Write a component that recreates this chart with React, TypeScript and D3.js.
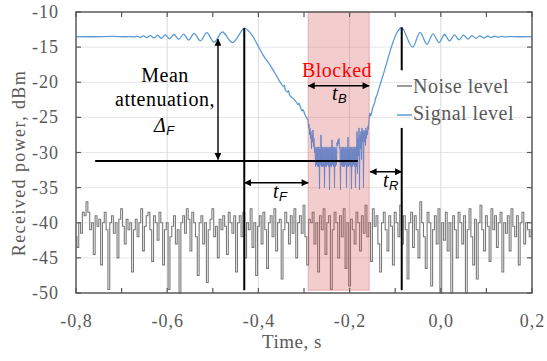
import React from "react";
import * as d3 from "d3";

const W = 547;
const H = 361;

// axes
const xDomain = [-0.8, 0.2];
const yDomain = [-50, -10];
const xTicks = [-0.8, -0.6, -0.4, -0.2, 0.0, 0.2];
const xTickLabels = ["-0,8", "-0,6", "-0,4", "-0,2", "0,0", "0,2"];
const xMinorTicks = [-0.7, -0.5, -0.3, -0.1, 0.1];
const yTicks = [-10, -15, -20, -25, -30, -35, -40, -45, -50];
const xGrid = [-0.6, -0.4, -0.2, 0.0];
const yGrid = [-15, -20, -25, -30, -35, -40, -45];

// noise level (sampled every 4 ms from -0.8 s)
const noiseStart = -0.8;
const noiseStep = 0.004;
const noiseValues = [
  -42, -43.5, -40, -41.5, -38.5, -39, -37, -38.5, -41, -40,
  -44.5, -39, -40.5, -39.5, -46, -40, -38.5, -41, -49.5, -40,
  -39, -41.5, -40, -45, -39.5, -38, -40.5, -43, -39.5, -41,
  -40, -47, -41, -39.5, -42, -40, -38, -44, -40.5, -39,
  -38.5, -41, -45.5, -39, -40, -42.5, -38.5, -40, -46, -41,
  -40, -49.5, -42, -40.5, -39, -43, -41, -50, -40, -39,
  -41.5, -38, -39.5, -44, -38.5, -40, -42, -47.5, -40, -39,
  -43, -40, -48.5, -41, -39.5, -38, -42, -40.5, -45, -39.5,
  -41, -39, -40.5, -44.5, -38.5, -40, -41.5, -39, -47, -40,
  -39, -42, -38.5, -45, -40, -41, -38, -43.5, -40, -47.5,
  -40.5, -39, -43, -38.5, -41, -46.5, -40, -39, -42, -38,
  -44, -40, -39.5, -48, -41, -38.5, -40, -43, -39, -41.5,
  -38, -45, -40, -39, -41.5, -37.5, -42, -46, -39.5, -40,
  -38.5, -43, -40, -47, -39, -41, -38, -44.5, -40, -39,
  -49.5, -41, -38.5, -40, -45, -39, -42, -38, -46.5, -40,
  -49, -39.5, -41, -43, -38.5, -40, -44, -39, -41.5, -37.5,
  -42, -40, -45.5, -38, -40.5, -39, -43, -47, -40, -38.5,
  -41, -44, -39, -40.5, -46, -38.5, -40, -42, -37.5, -43,
  -39, -41, -48, -40, -38.5, -43.5, -39, -41, -45, -37,
  -40, -42, -46.5, -38.5, -40, -49, -41, -39, -43, -38,
  -50, -40, -42.5, -38.5, -44, -40, -50, -39, -41, -45,
  -38.5, -40, -43, -39, -50, -41, -38, -42, -46, -39.5,
  -48, -40, -37.5, -41, -44, -39, -40.5, -45.5, -38, -41,
  -39, -43.5, -40, -38.5, -47, -40, -41.5, -39, -44, -38,
  -40.5, -42, -39, -46, -40, -38.5, -43, -40, -41, -42,
  -41,
];

// signal level: approach and shadowing fall [time s, dBm]
const signalFall: [number, number][] = [
  [-0.8, -13.5], [-0.76, -13.52], [-0.72, -13.48], [-0.69, -13.52],
  [-0.68, -13.5], [-0.673, -13.55], [-0.666, -13.45], [-0.659, -13.6],
  [-0.652, -13.4], [-0.645, -13.65], [-0.637, -13.35], [-0.629, -13.7],
  [-0.621, -13.3], [-0.613, -13.75], [-0.604, -13.25], [-0.595, -13.8],
  [-0.585, -13.2], [-0.575, -13.9], [-0.564, -13.15], [-0.553, -14.0],
  [-0.541, -13.05], [-0.527, -14.1], [-0.513, -12.95], [-0.497, -14.3],
  [-0.479, -12.85], [-0.457, -14.35], [-0.431, -12.3],
  [-0.423, -12.6], [-0.414, -13.3], [-0.405, -14.3], [-0.39, -16.1],
  [-0.375, -17.5], [-0.361, -19.0], [-0.353, -19.9], [-0.345, -20.6],
  [-0.343, -20.4], [-0.341, -21.1], [-0.336, -21.4], [-0.334, -21.2],
  [-0.331, -21.9], [-0.322, -22.4], [-0.316, -22.9], [-0.313, -23.2],
  [-0.311, -23.0], [-0.307, -23.7], [-0.304, -24.1], [-0.302, -23.9],
  [-0.298, -24.6], [-0.2912, -25.4],
];

// signal level inside the blocked interval
const blockedStart = -0.2912;
const blockedEnd = -0.1575;
const blockedValues = [
  -25.4, -26.5, -26, -27.5, -26.5, -28, -27, -29.5, -27.5, -28.5, -26.8, -29.2, -28, -30,
  -29.2, -32, -29.5, -31.8, -29.2, -32, -29.3, -32,
  -29.2, -35.2, -29.5, -31.8, -27.5, -32, -29.3, -32,
  -29.2, -32, -29.5, -35, -29.2, -32, -29.3, -32,
  -29.2, -31.8, -29.5, -32, -29.2, -35.3, -29.3, -32,
  -29.2, -32, -28.2, -31.8, -29.2, -32, -29.3, -35,
  -29.2, -32, -29.5, -31.8,
  -28.6, -29, -28.2, -28.8, -28, -29.5,
  -29.2, -35.3, -29.5, -31.8, -29.2, -32, -29.3, -32,
  -29.2, -32, -29.5, -31.8, -29.2, -35, -29.3, -32,
  -27.8, -32, -29.5, -31.8, -29.2, -32, -29.3, -35.2,
  -29.2, -32, -29.5, -31.8, -29.2, -32, -29.3, -35,
  -29.2, -32,
  -27, -33, -28, -30.5, -26.5, -35.3, -27.5, -29.5, -27, -31, -26.5, -28.5, -27,
  -35, -26.8, -28.5, -27, -29, -26.5, -28, -26.8, -27.5, -26.2, -26.8, -25.3,
];

// signal level: recovery and ripple
const signalRise: [number, number][] = [
  [-0.1575, -25.3], [-0.1555, -24.4], [-0.1535, -24.8], [-0.1505, -23.9],
  [-0.1487, -23.5], [-0.145, -22.9], [-0.143, -22.3], [-0.141, -22.0],
  [-0.1333, -20.4], [-0.1257, -18.8], [-0.118, -17.1], [-0.1114, -15.6],
  [-0.1048, -14.3], [-0.0982, -13.2], [-0.0928, -12.6], [-0.0857, -12.2],
  [-0.062, -15.0], [-0.0456, -12.9], [-0.0303, -14.6], [-0.0171, -13.1],
  [-0.0039, -14.35], [0.0081, -13.2], [0.0191, -14.1], [0.03, -13.25],
  [0.0399, -13.95], [0.0498, -13.3], [0.0596, -13.85], [0.0684, -13.35],
  [0.0772, -13.75], [0.086, -13.4], [0.0947, -13.7], [0.1024, -13.42],
  [0.11, -13.62], [0.1178, -13.45], [0.1254, -13.58], [0.133, -13.47],
  [0.141, -13.55], [0.15, -13.5], [0.17, -13.52], [0.2, -13.5],
];

// annotation values (data units)
const blockedZone = [-0.291, -0.157];
const zoneBottom = -49.6;
const edgeFall = -0.431;
const edgeFallTop = -12.3;
const edgeRise = -0.0857;
const edgeRiseTop = -12.2;
const edgeRiseGap = [-18.3, -26.5];
const meanLevel = -31.2;
const meanLine = [-0.758, -0.182];
const attArrowT = -0.4886;
const attArrowRange = [-13.85, -31.0];
const tBLevel = -20.5;
const tFLevel = -34.3;
const tFEnd = -0.2906;
const tRLevel = -32.75;
const tRStart = -0.1553;

const SERIF = '"Liberation Serif", "Times New Roman", Times, serif';
const SANS = '"Liberation Sans", Arial, sans-serif';
const AXIS = "#595959";
const BLUE = "#5b9bd5";
const GREY = "#7a7a7a";

export default function App() {
  const x = d3.scaleLinear().domain(xDomain).range([76, 532]);
  const y = d3.scaleLinear().domain(yDomain).range([293, 12]);

  const noisePts: [number, number][] = noiseValues.map((v, i) => [noiseStart + i * noiseStep, v]);
  const bStep = (blockedEnd - blockedStart) / (blockedValues.length - 1);
  const blockedPts: [number, number][] = blockedValues.map((v, i) => [blockedStart + i * bStep, v]);

  const lin = d3.line<[number, number]>().x((d) => x(d[0])).y((d) => y(d[1]));
  const stepLine = d3
    .line<[number, number]>()
    .x((d) => x(d[0]))
    .y((d) => y(d[1]))
    .curve(d3.curveStep);
  const smooth = d3
    .line<[number, number]>()
    .x((d) => x(d[0]))
    .y((d) => y(d[1]))
    .curve(d3.curveCatmullRom.alpha(0.5));

  const [x0, x1] = x.range();
  const [yb, yt] = y.range();

  const arrowProps = {
    stroke: "#000",
    strokeWidth: 1.4,
    markerStart: "url(#ah)",
    markerEnd: "url(#ah)",
  };

  return (
    <svg
      width={W}
      height={H}
      viewBox={`0 0 ${W} ${H}`}
      style={{ position: "absolute", left: 0, top: 0, background: "#fff" }}
    >
      <defs>
        <marker
          id="ah"
          viewBox="0 0 10 10"
          refX="9.5"
          refY="5"
          markerWidth="10"
          markerHeight="7"
          markerUnits="userSpaceOnUse"
          orient="auto-start-reverse"
        >
          <path d="M0,0 L10,5 L0,10 z" fill="#000" />
        </marker>
      </defs>

      {/* gridlines */}
      {yGrid.map((v) => (
        <line key={"gy" + v} x1={x0} x2={x1} y1={y(v)} y2={y(v)} stroke="#e6e6e6" strokeWidth={1} />
      ))}
      {xGrid.map((v) => (
        <line key={"gx" + v} x1={x(v)} x2={x(v)} y1={yt} y2={yb} stroke="#d9d9d9" strokeWidth={1} />
      ))}

      {/* noise */}
      <path d={stepLine(noisePts) || ""} fill="none" stroke={GREY} strokeWidth={1.1} />

      {/* signal */}
      <path d={smooth(signalFall) || ""} fill="none" stroke={BLUE} strokeWidth={1.3} />
      <path d={smooth(signalRise) || ""} fill="none" stroke={BLUE} strokeWidth={1.3} />

      {/* blocked zone */}
      <rect
        x={x(blockedZone[0])}
        y={yt}
        width={x(blockedZone[1]) - x(blockedZone[0])}
        height={y(zoneBottom) - yt}
        fill="rgba(214,90,90,0.3)"
        stroke="rgba(214,110,110,0.45)"
        strokeWidth={1}
      />
      <path d={lin(blockedPts) || ""} fill="none" stroke="#6a84c4" strokeWidth={1} />

      {/* frame */}
      <rect x={x0} y={yt} width={x1 - x0} height={yb - yt} fill="none" stroke={AXIS} strokeWidth={1.5} />
      {yTicks.map((v) => (
        <g key={"ty" + v}>
          <line x1={x0} x2={x0 + 5} y1={y(v)} y2={y(v)} stroke={AXIS} strokeWidth={1.2} />
          <line x1={x1} x2={x1 - 5} y1={y(v)} y2={y(v)} stroke={AXIS} strokeWidth={1.2} />
          <text
            x={59}
            y={y(v) + 6}
            textAnchor="end"
            fontFamily={SERIF}
            fontSize={18}
            letterSpacing={1}
            fill={AXIS}
          >
            {String(v)}
          </text>
        </g>
      ))}
      {xTicks.concat(xMinorTicks).map((v) => (
        <g key={"tx" + v}>
          <line x1={x(v)} x2={x(v)} y1={yt} y2={yt + 5} stroke={AXIS} strokeWidth={1.2} />
          <line x1={x(v)} x2={x(v)} y1={yb} y2={yb - 5} stroke={AXIS} strokeWidth={1.2} />
        </g>
      ))}
      {xTicks.map((v, i) => (
        <text
          key={"lx" + v}
          x={x(v) + 0.5}
          y={327}
          textAnchor="middle"
          fontFamily={SERIF}
          fontSize={18}
          letterSpacing={1}
          fill={AXIS}
        >
          {xTickLabels[i]}
        </text>
      ))}
      <text x={292} y={348} textAnchor="middle" fontFamily={SERIF} fontSize={19} letterSpacing={0.5} fill={AXIS}>
        Time, s
      </text>
      <text
        transform="translate(25,163) rotate(-90)"
        textAnchor="middle"
        fontFamily={SERIF}
        fontSize={18}
        letterSpacing={1.4}
        fill={AXIS}
      >
        Received power, dBm
      </text>

      {/* edges */}
      <line x1={x(edgeFall)} x2={x(edgeFall)} y1={y(edgeFallTop)} y2={y(zoneBottom)} stroke="#000" strokeWidth={2} />
      <line x1={x(edgeRise)} x2={x(edgeRise)} y1={y(edgeRiseTop)} y2={y(edgeRiseGap[0])} stroke="#000" strokeWidth={2} />
      <line x1={x(edgeRise)} x2={x(edgeRise)} y1={y(edgeRiseGap[1])} y2={y(zoneBottom)} stroke="#000" strokeWidth={2} />
      <line x1={x(meanLine[0])} x2={x(meanLine[1])} y1={y(meanLevel)} y2={y(meanLevel)} stroke="#000" strokeWidth={2} />

      {/* arrows */}
      <line x1={x(attArrowT)} x2={x(attArrowT)} y1={y(attArrowRange[0])} y2={y(attArrowRange[1])} {...arrowProps} />
      <line x1={x(blockedZone[0])} x2={x(blockedZone[1])} y1={y(tBLevel)} y2={y(tBLevel)} {...arrowProps} />
      <line x1={x(edgeFall)} x2={x(tFEnd)} y1={y(tFLevel)} y2={y(tFLevel)} {...arrowProps} />
      <line x1={x(tRStart)} x2={x(edgeRise)} y1={y(tRLevel)} y2={y(tRLevel)} {...arrowProps} />

      {/* annotation text */}
      <g fontFamily={SERIF} fontSize={20} letterSpacing={0.5} fill="#000">
        <text x={165} y={81.5} textAnchor="middle">Mean</text>
        <text x={165} y={106} textAnchor="middle">attenuation,</text>
        <text x={154} y={131.5}>
          <tspan fontStyle="italic">Δ</tspan>
          <tspan fontFamily={SANS} fontStyle="italic" fontSize={13} dy={3}>F</tspan>
        </text>
        <text x={337} y={77} textAnchor="middle" fill="#ff0000">Blocked</text>
        <text x={332} y={100}>
          <tspan fontStyle="italic">t</tspan>
          <tspan fontFamily={SANS} fontStyle="italic" fontSize={13} dy={3}>B</tspan>
        </text>
        <text x={273} y={198}>
          <tspan fontStyle="italic">t</tspan>
          <tspan fontFamily={SANS} fontStyle="italic" fontSize={13} dy={3}>F</tspan>
        </text>
        <text x={383} y={187}>
          <tspan fontStyle="italic">t</tspan>
          <tspan fontFamily={SANS} fontStyle="italic" fontSize={13} dy={3}>R</tspan>
        </text>
      </g>

      {/* legend */}
      <line x1={397} x2={412} y1={86} y2={86} stroke={GREY} strokeWidth={1.5} />
      <text x={413} y={93} fontFamily={SERIF} fontSize={20} letterSpacing={0.5} fill={AXIS}>Noise level</text>
      <line x1={397} x2={412} y1={115} y2={115} stroke={BLUE} strokeWidth={1.5} />
      <text x={413} y={120} fontFamily={SERIF} fontSize={20} letterSpacing={0.5} fill={AXIS}>Signal level</text>
    </svg>
  );
}
